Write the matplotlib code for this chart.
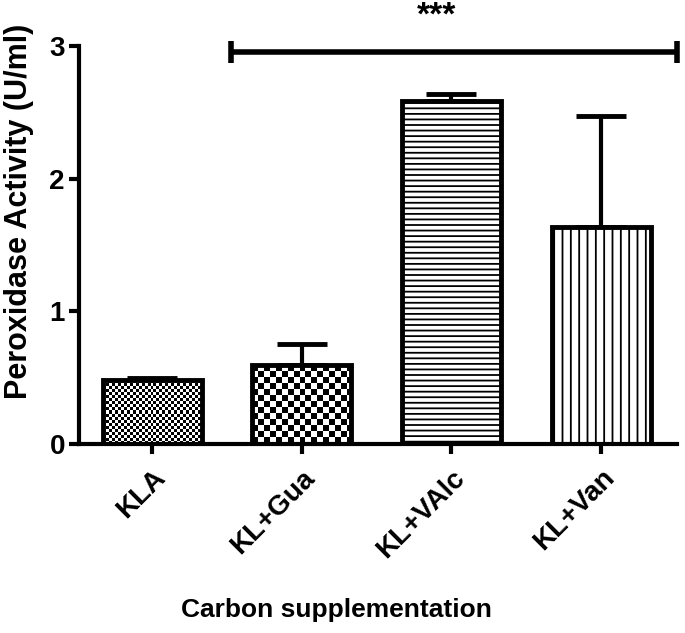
import matplotlib.pyplot as plt
import numpy as np

plt.rcParams['font.family'] = ['Liberation Sans', 'DejaVu Sans']
plt.rcParams['hatch.linewidth'] = 1.3

# data
groups = ['KLA', 'KL+Gua', 'KL+VAlc', 'KL+Van']
activity = [0.48, 0.595, 2.585, 1.635]
sem = [0.02, 0.16, 0.05, 0.84]
sig_y = 2.95
sig_from = 0.53
sig_to = 3.51
sig_text = '***'

x = np.arange(len(groups))
fig = plt.figure(figsize=(6.85, 6.33), dpi=100)
ax = fig.add_axes([0.115, 0.2986, 0.874, 0.629])

bars = ax.bar(x, activity, width=0.66, color='white', edgecolor='black',
              linewidth=3.5, zorder=2)

# checker fill for the first two bars, line hatch for the others
cells = [3, 6]
for i, c in enumerate(cells):
    b = bars[i]
    b.set_facecolor('none')
    h_px = int(activity[i] * 133)
    w_px = 100
    yy, xx = np.indices((h_px, w_px))
    board = ((yy // c + xx // c) % 2).astype(float)
    im = ax.imshow(board, cmap='gray', vmin=0, vmax=1, interpolation='nearest',
                   extent=[b.get_x(), b.get_x() + b.get_width(), 0, activity[i]],
                   aspect='auto', zorder=1.5)
    im.set_clip_path(b)
bars[2].set_hatch('---')
bars[3].set_hatch('||')

ax.errorbar(x, activity, yerr=[np.zeros(len(sem)), sem], fmt='none',
            ecolor='black', elinewidth=3, capsize=18, capthick=3.5, zorder=1)

ax.plot([sig_from, sig_to], [sig_y, sig_y], color='black', lw=4,
        marker='|', markersize=16, mew=4, clip_on=False, solid_capstyle='butt')
ax.text((sig_from + sig_to) / 2 - 0.12, 3.16, sig_text, ha='center', va='baseline',
        fontsize=24, fontweight='bold')

ax.set_xlim(-0.49, 3.51)
ax.set_ylim(0, 3)
ax.set_yticks([0, 1, 2, 3])
ax.set_xticks(x)
ax.set_xticklabels(groups, rotation=45, ha='right', va='top', rotation_mode='anchor',
                   fontsize=20, fontweight='bold')
for lab in ax.get_yticklabels():
    lab.set_fontsize(20)
    lab.set_fontweight('bold')
ax.tick_params(width=3, length=7, pad=3)
ax.tick_params(axis='x', pad=8)

for s in ['top', 'right']:
    ax.spines[s].set_visible(False)
for s in ['left', 'bottom']:
    ax.spines[s].set_linewidth(3)

ax.set_ylabel('Peroxidase Activity (U/ml)', fontsize=22, fontweight='bold')
ax.yaxis.set_label_coords(-0.074, 0.583)
ax.set_xlabel('Carbon supplementation', fontsize=19, fontweight='bold')
ax.xaxis.set_label_coords(0.43, -0.387)

fig.savefig('out.png', dpi=100)
